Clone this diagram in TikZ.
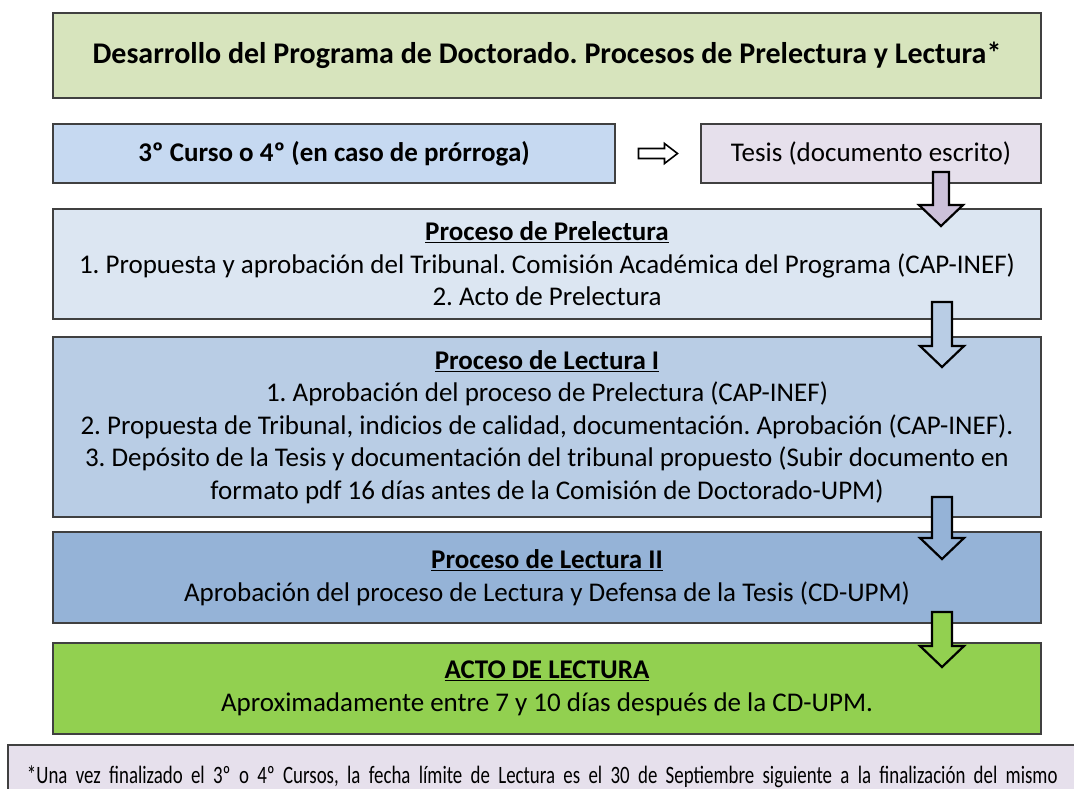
\documentclass[tikz,border=0pt]{standalone}
\usepackage{fontspec}
\setmainfont{Carlito}
\newfontfamily\notefont[FakeStretch=0.755]{Carlito}
\usetikzlibrary{positioning,calc}

\definecolor{titlegreen}{HTML}{D7E4BD}
\definecolor{cursoblue}{HTML}{C6D9F1}
\definecolor{tesislila}{HTML}{E6E0EC}
\definecolor{arrowlila}{HTML}{CCC1DA}
\definecolor{prelblue}{HTML}{DCE6F2}
\definecolor{lectblue}{HTML}{B9CDE5}
\definecolor{lectdblue}{HTML}{95B3D7}
\definecolor{actogreen}{HTML}{92D050}

\newcommand{\blockdown}[4]{%
\draw[blockarrow,fill=#4] (#1) ++(-#3,0) -- ++({2*#3},0) -- ++(0,{#2-21}) -- ++({22-#3},0)
  -- ++(-22,21) -- ++(-22,-21) -- ++({22-#3},0) -- cycle;}

\begin{document}
\frenchspacing
\begin{tikzpicture}[x=1pt,y=-1pt,
  box/.style={draw=black!75,line width=1.2pt,minimum width=988pt,align=center,inner sep=0pt,outer sep=0pt,
    font=\fontsize{27}{32.5}\selectfont},
  blockarrow/.style={draw=black,line width=2.2pt,line join=miter},
  openarrow/.style={draw=black,line width=1.6pt,fill=white,line join=miter}]
\useasboundingbox (0,0) rectangle (1074,789);
\clip (0,0) rectangle (1074,789);
\node[box,fill=titlegreen,minimum height=85pt,font=\bfseries\fontsize{30}{34}\selectfont] (titulo) at (547,55.5)
  {Desarrollo del Programa de Doctorado. Procesos de Prelectura y Lectura*};
\node[box,fill=cursoblue,minimum width=562pt,minimum height=59pt,below=26pt of titulo.south west,anchor=north west,
  font=\bfseries\fontsize{27}{32}\selectfont] (curso) {3º Curso o 4º (en caso de prórroga)};
\node[box,fill=tesislila,minimum width=340pt,minimum height=59pt,below=26pt of titulo.south east,anchor=north east]
  (tesis) {Tesis (documento escrito)};
\node[box,fill=prelblue,minimum height=110pt,below=26pt of curso.south west,anchor=north west] (prelectura)
  {\textbf{\underline{Proceso de Prelectura}}\\
   1. Propuesta y aprobación del Tribunal. Comisión Académica del Programa (CAP-INEF)\\
   2. Acto de Prelectura};
\node[box,fill=lectblue,minimum height=180pt,below=18pt of prelectura] (lecturaI)
  {\textbf{\underline{Proceso de Lectura I}}\\
   1. Aprobación del proceso de Prelectura (CAP-INEF)\\
   2. Propuesta de Tribunal, indicios de calidad, documentación. Aprobación (CAP-INEF).\\
   3. Depósito de la Tesis y documentación del tribunal propuesto (Subir documento en\\
   formato pdf 16 días antes de la Comisión de Doctorado-UPM)};
\node[box,fill=lectdblue,minimum height=91pt,below=15pt of lecturaI] (lecturaII)
  {\textbf{\underline{Proceso de Lectura II}}\\
   Aprobación del proceso de Lectura y Defensa de la Tesis (CD-UPM)};
\node[box,fill=actogreen,minimum height=91pt,below=20pt of lecturaII] (acto)
  {\textbf{\underline{ACTO DE LECTURA}}\\
   Aproximadamente entre 7 y 10 días después de la CD-UPM.};
\node[box,fill=tesislila,anchor=north west,text width=1080pt,align=left,inner xsep=19pt,minimum height=64pt,
  font=\notefont\fontsize{25}{28}\selectfont] (nota) at (8,745)
  {*Una vez finalizado el 3º o 4º Cursos, la fecha límite de Lectura es el 30 de Septiembre siguiente a la finalización del mismo};
\draw[openarrow] ($(curso.east)!0.5!(tesis.west)$) ++(-19.5,-5) -- ++(26,0) -- ++(0,-5) -- ++(13,10)
  -- ++(-13,10) -- ++(0,-5) -- ++(-26,0) -- cycle;
\coordinate (a1) at ($(tesis.south east)+(-100,-11)$);
\coordinate (a2) at ($(prelectura.south east)+(-99,-17)$);
\coordinate (a3) at ($(lecturaI.south east)+(-99,-20)$);
\coordinate (a4) at ($(lecturaII.south east)+(-99,-11)$);
\blockdown{a1}{54}{8}{arrowlila}
\blockdown{a2}{65}{10}{lectblue}
\blockdown{a3}{62}{10}{lectdblue}
\blockdown{a4}{55}{10}{actogreen}
\end{tikzpicture}
\end{document}
